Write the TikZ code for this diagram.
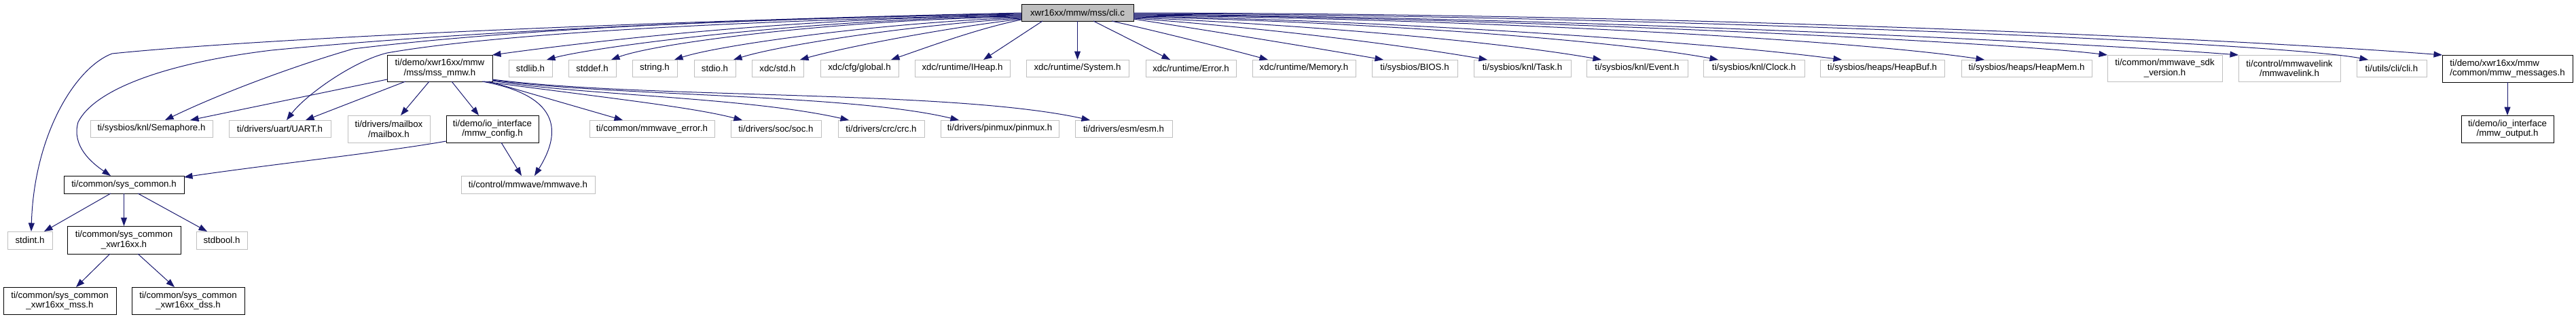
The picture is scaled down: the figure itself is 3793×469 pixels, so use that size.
\documentclass[tikz,border=0pt]{standalone}
\usepackage{fontspec}
\setmainfont{Liberation Sans}
\usetikzlibrary{arrows.meta,calc}
\definecolor{edgec}{HTML}{191970}
\definecolor{nodegray}{HTML}{BFBFBF}
\newcommand\mknode[7]{\node[#6, minimum width={(#4)-(#2)}, minimum height={(#5)-(#3)}] (#1) at ({((#2)+(#4))/2},{((#3)+(#5))/2}) {#7};}
\begin{document}
\begin{tikzpicture}[x=1pt,y=-1pt,
  every node/.style={font=\fontsize{13.3}{14.5}\selectfont, inner sep=0pt, outer sep=0pt},
  gb/.style={draw=nodegray, line width=1pt, rectangle, align=center},
  bb/.style={draw=black, line width=1pt, rectangle, align=center},
  rb/.style={draw=black, fill=nodegray, line width=1pt, rectangle},
  dep/.style={draw=edgec, line width=1pt, -{Triangle[length=12.5pt,width=9pt]}}
]
\fill[white] (0,0) rectangle (3793,469);
\useasboundingbox (0,0) rectangle (3793,469);
% root
\mknode{root}{1504}{6}{1669}{31}{rb}{xwr16xx/mmw/mss/cli.c}
% row 2
\mknode{mssmmw}{570}{81}{725}{120}{bb}{ti/demo/xwr16xx/mmw\\/mss/mss\_mmw.h}
\mknode{stdlib}{749}{88}{813}{113}{gb}{stdlib.h}
\mknode{stddef}{837}{88}{907}{113}{gb}{stddef.h}
\mknode{string}{931}{88}{997}{113}{gb}{string.h}
\mknode{stdio}{1022}{88}{1083}{113}{gb}{stdio.h}
\mknode{xdcstd}{1107}{88}{1183}{113}{gb}{xdc/std.h}
\mknode{global}{1208}{88}{1323}{113}{gb}{xdc/cfg/global.h}
\mknode{iheap}{1347}{88}{1487}{113}{gb}{xdc/runtime/IHeap.h}
\mknode{system}{1511}{88}{1662}{113}{gb}{xdc/runtime/System.h}
\mknode{error}{1687}{88}{1820}{113}{gb}{xdc/runtime/Error.h}
\mknode{memory}{1844}{88}{1996}{113}{gb}{xdc/runtime/Memory.h}
\mknode{bios}{2020}{88}{2146}{113}{gb}{ti/sysbios/BIOS.h}
\mknode{task}{2170}{88}{2313}{113}{gb}{ti/sysbios/knl/Task.h}
\mknode{event}{2336}{88}{2485}{113}{gb}{ti/sysbios/knl/Event.h}
\mknode{clock}{2508}{88}{2657}{113}{gb}{ti/sysbios/knl/Clock.h}
\mknode{heapbuf}{2680}{88}{2863}{113}{gb}{ti/sysbios/heaps/HeapBuf.h}
\mknode{heapmem}{2888}{88}{3080}{113}{gb}{ti/sysbios/heaps/HeapMem.h}
\mknode{sdkver}{3103}{81}{3272}{120}{gb}{ti/common/mmwave\_sdk\\\_version.h}
\mknode{mmwlink}{3296}{81}{3446}{120}{gb}{ti/control/mmwavelink\\/mmwavelink.h}
\mknode{cli}{3470}{88}{3573}{113}{gb}{ti/utils/cli/cli.h}
\node[draw=black, line width=1pt, rectangle, align=left, minimum width=192, minimum height=40] (msgs) at (3692,101) {ti/demo/xwr16xx/mmw\\/common/mmw\_messages.h};
% row 3
\mknode{sema}{133}{177}{313}{202}{gb}{ti/sysbios/knl/Semaphore.h}
\mknode{uart}{337}{177}{487}{202}{gb}{ti/drivers/uart/UART.h}
\mknode{mailbox}{512}{170}{633}{210}{gb}{ti/drivers/mailbox\\/mailbox.h}
\mknode{config}{657}{170}{793}{210}{bb}{ti/demo/io\_interface\\/mmw\_config.h}
\mknode{mmwerr}{868}{177}{1052}{202}{gb}{ti/common/mmwave\_error.h}
\mknode{soc}{1076}{177}{1209}{202}{gb}{ti/drivers/soc/soc.h}
\mknode{crc}{1234}{177}{1361}{202}{gb}{ti/drivers/crc/crc.h}
\mknode{pinmux}{1385}{177}{1559}{202}{gb}{ti/drivers/pinmux/pinmux.h}
\mknode{esm}{1583}{177}{1726}{202}{gb}{ti/drivers/esm/esm.h}
\mknode{output}{3624}{170}{3760}{210}{bb}{ti/demo/io\_interface\\/mmw\_output.h}
% row 4
\mknode{syscommon}{94}{259}{271}{285}{bb}{ti/common/sys\_common.h}
\mknode{mmwave}{679}{259}{876}{285}{gb}{ti/control/mmwave/mmwave.h}
% row 5
\mknode{stdint}{11}{341}{77}{367}{gb}{stdint.h}
\mknode{xwr}{99}{333}{266}{374}{bb}{ti/common/sys\_common\\\_xwr16xx.h}
\mknode{stdbool}{289}{341}{364}{367}{gb}{stdbool.h}
% row 6
\mknode{mss}{5}{423}{171}{463}{bb}{ti/common/sys\_common\\\_xwr16xx\_mss.h}
\mknode{dss}{194}{423}{360}{463}{bb}{ti/common/sys\_common\\\_xwr16xx\_dss.h}

% ---- edges from root, right fan
\draw[dep] ($(root.south east)+(0,-3)$) .. controls (1800,48) and (1950,73) .. ($(bios.north west)+(17,0)$);
\draw[dep] ($(root.south east)+(0,-4)$) .. controls (1850,40) and (2050,64) .. ($(task.north west)+(20,0)$);
\draw[dep] ($(root.south east)+(0,-5)$) .. controls (1900,35) and (2200,60) .. ($(event.north west)+(22,0)$);
\draw[dep] ($(root.south east)+(0,-6)$) .. controls (1950,30) and (2350,55) .. ($(clock.north west)+(22,0)$);
\draw[dep] ($(root.south east)+(0,-7)$) .. controls (2000,28) and (2500,60) .. ($(heapbuf.north west)+(32,0)$);
\draw[dep] ($(root.south east)+(0,-8)$) .. controls (2100,26) and (2700,55) .. ($(heapmem.north west)+(34,0)$);
\draw[dep] ($(root.south east)+(0,-9)$) .. controls (2200,25) and (2950,62) .. (sdkver.north west);
\draw[dep] ($(root.south east)+(0,-10)$) .. controls (2300,25) and (3050,62) .. (mmwlink.north west);
\draw[dep] ($(root.south east)+(0,-11)$) .. controls (2400,22) and (3350,62) .. ($(cli.north west)+(17,0)$);
\draw[dep] ($(root.south east)+(0,-12)$) .. controls (2500,20) and (3300,58) .. (msgs.north west);
% straight-down ones
\draw[dep] ($(root.south west)+(133,0)$) .. controls (1720,50) and (1800,70) .. ($(memory.north west)+(23,0)$);
\draw[dep] ($(root.south west)+(106,0)$) -- ($(error.north west)+(36,0)$);
\draw[dep] (root.south) -- (system.north);
\draw[dep] ($(root.south west)+(31,0)$) -- ($(iheap.north west)+(101,0)$);
% left fan
\draw[dep] ($(root.south west)+(0,-2)$) .. controls (1440,42) and (1370,68) .. ($(global.north west)+(104,0)$);
\draw[dep] ($(root.south west)+(0,-3)$) .. controls (1400,40) and (1250,68) .. ($(xdcstd.north west)+(71,0)$);
\draw[dep] ($(root.south west)+(0,-4)$) .. controls (1350,36) and (1150,66) .. ($(stdio.north west)+(58,0)$);
\draw[dep] ($(root.south west)+(0,-5)$) .. controls (1300,33) and (1060,66) .. ($(string.north west)+(62,0)$);
\draw[dep] ($(root.south west)+(0,-6)$) .. controls (1250,28) and (970,62) .. ($(stddef.north west)+(63,0)$);
\draw[dep] ($(root.south west)+(0,-7)$) .. controls (1200,27) and (880,68) .. ($(stdlib.north west)+(56,0)$);
\draw[dep] ($(root.south west)+(0,-8)$) .. controls (1150,26) and (850,64) .. (mssmmw.north east);
\draw[dep] ($(root.south west)+(0,-9)$) .. controls (1000,32) and (700,55) .. (570,78) .. controls (520,90) and (450,140) .. ($(uart.north west)+(85,0)$);
\draw[dep] ($(root.south west)+(0,-10)$) .. controls (1000,28) and (700,50) .. (520,72) .. controls (440,95) and (330,135) .. ($(sema.north west)+(110,0)$);
\draw[dep] ($(root.south west)+(0,-11)$) .. controls (1100,28) and (700,45) .. (400,74) .. controls (250,92) and (140,130) .. (115,180) .. controls (105,215) and (135,240) .. ($(syscommon.north west)+(69,0)$);
\draw[dep] ($(root.south west)+(0,-12)$) .. controls (1000,30) and (400,55) .. (165,79) .. controls (110,100) and (50,200) .. ($(stdint.north west)+(35,0)$);
% from mss_mmw.h
\draw[dep] ($(mssmmw.south west)+(0,-3)$) -- ($(sema.north west)+(147,0)$);
\draw[dep] ($(mssmmw.south west)+(27,0)$) -- ($(uart.north west)+(113,0)$);
\draw[dep] ($(mssmmw.south west)+(62,0)$) -- ($(mailbox.north west)+(78,0)$);
\draw[dep] ($(mssmmw.south west)+(95,0)$) -- ($(config.north west)+(48,0)$);
\draw[dep] ($(mssmmw.south west)+(140,0)$) .. controls (820,140) and (830,190) .. ($(mmwave.north west)+(108,0)$);
\draw[dep] ($(mssmmw.south east)+(-5,0)$) -- ($(mmwerr.north west)+(49,0)$);
\draw[dep] ($(mssmmw.south east)+(-13,0)$) .. controls (900,145) and (1020,158) .. ($(soc.north west)+(17,0)$);
\draw[dep] ($(mssmmw.south east)+(0,-1)$) .. controls (850,140) and (1100,143) .. ($(crc.north west)+(16,0)$);
\draw[dep] ($(mssmmw.south east)+(0,-2)$) .. controls (900,142) and (1250,138) .. ($(pinmux.north west)+(27,0)$);
\draw[dep] ($(mssmmw.south east)+(0,-3)$) .. controls (950,146) and (1400,132) .. ($(esm.north west)+(22,0)$);
% from mmw_config.h
\draw[dep] ($(config.south west)+(0,-2)$) .. controls (560,225) and (400,242) .. ($(syscommon.north east)+(0,2)$);
\draw[dep] ($(config.south west)+(81,0)$) -- ($(mmwave.north west)+(89,0)$);
% from sys_common.h
\draw[dep] ($(syscommon.south west)+(69,0)$) -- ($(stdint.north east)+(-12,0)$);
\draw[dep] (syscommon.south) -- (xwr.north);
\draw[dep] ($(syscommon.south west)+(109,0)$) -- ($(stdbool.north west)+(16,0)$);
% from sys_common_xwr16xx.h
\draw[dep] ($(xwr.south west)+(63,0)$) -- ($(mss.north west)+(107,0)$);
\draw[dep] ($(xwr.south west)+(104,0)$) -- ($(dss.north west)+(63,0)$);
% from mmw_messages.h
\draw[dep] (msgs.south) -- (output.north);
\end{tikzpicture}
\end{document}
